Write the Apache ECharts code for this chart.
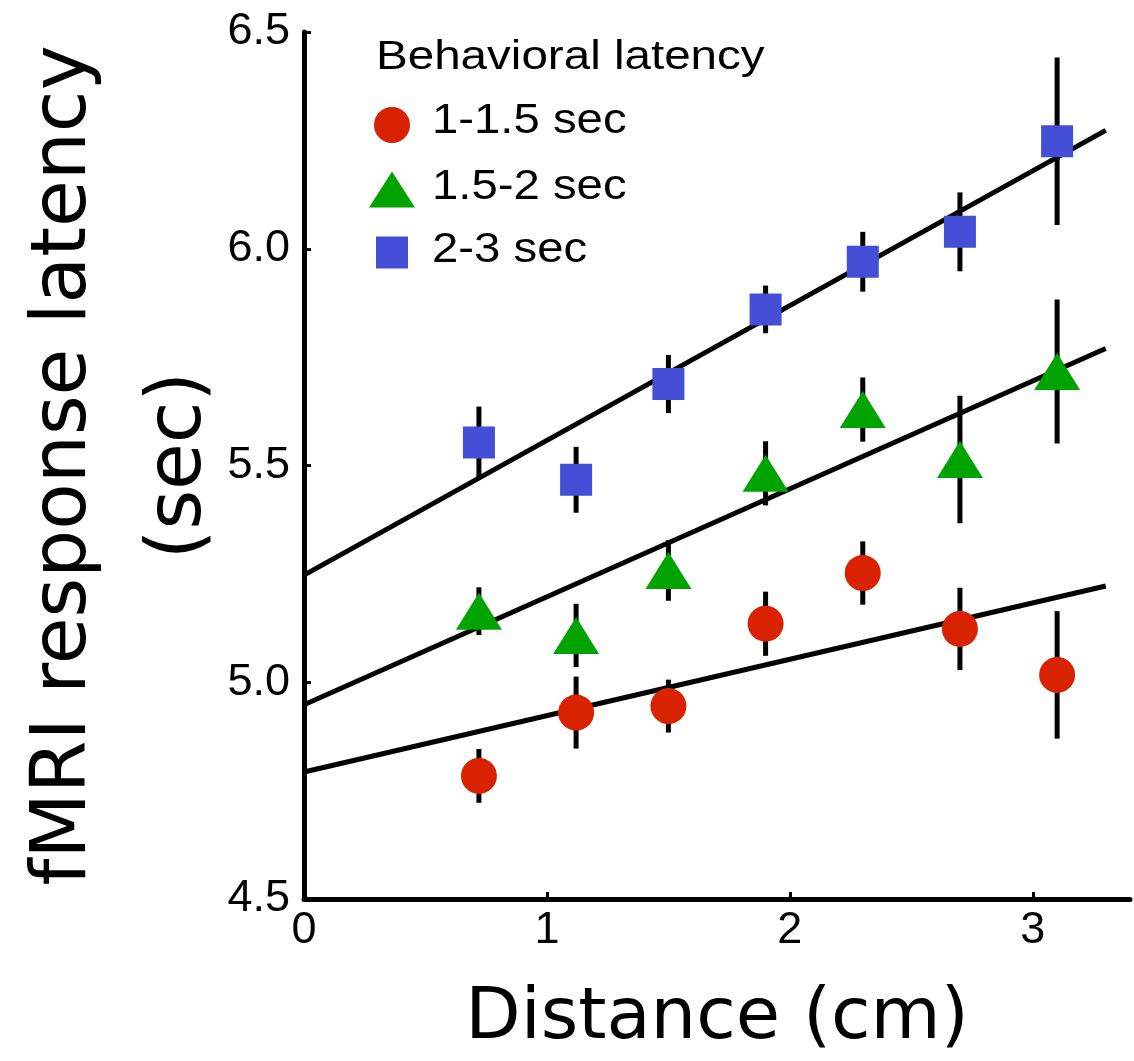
<!DOCTYPE html>
<html>
<head>
<meta charset="utf-8">
<script src="https://cdn.jsdelivr.net/npm/echarts@6/dist/echarts.min.js"></script>
<style>
  html, body { margin: 0; padding: 0; background: #fff; }
  #chart { width: 1134px; height: 1061px; }
</style>
</head>
<body>
<div id="chart"></div>
<script>
// Distance between stimulus locations (cm)
const distances = [0.72, 1.12, 1.5, 1.9, 2.3, 2.7, 3.1];

// Group names (behavioral latency bins)
const groupNames = ['1-1.5 sec', '1.5-2 sec', '2-3 sec'];

// Mean fMRI response latency (sec) and error (half bar length, sec)
const fastMeans = [4.784, 4.93, 4.945, 5.135, 5.252, 5.123, 5.017];
const fastErr   = [0.062, 0.083, 0.061, 0.074, 0.073, 0.095, 0.147];

const midMeans  = [5.164, 5.108, 5.258, 5.482, 5.629, 5.514, 5.717];
const midErr    = [0.055, 0.073, 0.070, 0.074, 0.074, 0.147, 0.166];

const slowMeans = [5.553, 5.467, 5.688, 5.860, 5.970, 6.039, 6.248];
const slowErr   = [0.083, 0.076, 0.067, 0.055, 0.069, 0.091, 0.193];

// Linear fits: x range and fitted values at its two ends
const fitRange = [0, 3.3];
const fastFit  = [4.793, 5.222];
const midFit   = [4.948, 5.770];
const slowFit  = [5.247, 6.273];

// Axis ticks
const xTicks = [0, 1, 2, 3];
const yTicks = [4.5, 5.0, 5.5, 6.0, 6.5];

const colors = ['#d92200', '#00a300', '#444ed6'];
const symbols = ['circle', 'triangle', 'rect'];
const symbolSizes = [36, [46, 37], 32];

const groups = [
  { means: fastMeans, err: fastErr, fit: fastFit },
  { means: midMeans,  err: midErr,  fit: midFit },
  { means: slowMeans, err: slowErr, fit: slowFit }
];

const tickFont = '"Liberation Sans", Arial, Helvetica, sans-serif';
const titleFont = '"Comic Sans MS", "DejaVu Sans", sans-serif';

const series = [];
groups.forEach((g, gi) => {
  // vertical error bars
  series.push({
    type: 'custom',
    z: 2,
    silent: true,
    data: distances.map((d, i) => [d, g.means[i], g.err[i]]),
    encode: { x: 0, y: 1 },
    renderItem: (params, api) => {
      const x = api.value(0), y = api.value(1), e = api.value(2);
      const top = api.coord([x, y + e]);
      const bot = api.coord([x, y - e]);
      return {
        type: 'line',
        shape: { x1: top[0], y1: top[1], x2: bot[0], y2: bot[1] },
        style: { stroke: '#000', lineWidth: 5 }
      };
    }
  });
  // regression line
  series.push({
    type: 'line',
    z: 3,
    silent: true,
    symbol: 'none',
    data: fitRange.map((x, i) => [x, g.fit[i]]),
    lineStyle: { color: '#000', width: 5 }
  });
  // group means
  series.push({
    type: 'scatter',
    name: groupNames[gi],
    z: 4,
    symbol: symbols[gi],
    symbolSize: symbolSizes[gi],
    itemStyle: { color: colors[gi], opacity: 1 },
    data: distances.map((d, i) => [d, g.means[i]])
  });
});

// Legend drawn as a small block of shapes and text
const legendX = 392, legendTextX = 432;
const legendSymbolY = [125, 189.5, 252.5];
const legendTextY = [121, 187, 250];
const legendChildren = [
  {
    type: 'text',
    x: 376, y: 58, scaleX: 1.16,
    style: { x: 0, y: 0, text: 'Behavioral latency', fill: '#000',
             font: '41px ' + tickFont, textVerticalAlign: 'middle' }
  },
  { type: 'circle', shape: { cx: legendX, cy: legendSymbolY[0], r: 18 },
    style: { fill: colors[0] } },
  { type: 'polygon',
    shape: { points: [[legendX, legendSymbolY[1] - 18], [legendX + 23, legendSymbolY[1] + 18], [legendX - 23, legendSymbolY[1] + 18]] },
    style: { fill: colors[1] } },
  { type: 'rect', shape: { x: legendX - 16, y: legendSymbolY[2] - 16, width: 32, height: 32 },
    style: { fill: colors[2] } }
];
groupNames.forEach((n, i) => {
  legendChildren.push({
    type: 'text',
    x: legendTextX, y: legendTextY[i], scaleX: 1.1,
    style: { x: 0, y: 0, text: n, fill: '#000',
             font: '43px ' + tickFont, textVerticalAlign: 'middle' }
  });
});

const chart = echarts.init(document.getElementById('chart'), null, { renderer: 'canvas' });
chart.setOption({
  animation: false,
  backgroundColor: '#fff',
  grid: { left: 304, right: 4, top: 32, bottom: 162, containLabel: false, outerBoundsMode: 'none' },
  xAxis: {
    type: 'value',
    min: 0,
    max: 3.4,
    interval: 1,
    name: 'Distance (cm)',
    nameLocation: 'middle',
    nameGap: 84,
    nameTextStyle: { fontFamily: titleFont, fontSize: 72, color: '#000' },
    axisLine: { lineStyle: { color: '#000', width: 5 } },
    axisTick: { inside: true, length: 7, lineStyle: { color: '#000', width: 3 }, customValues: xTicks.slice(1) },
    axisLabel: { fontFamily: tickFont, fontSize: 45, color: '#000', margin: 9, customValues: xTicks },
    splitLine: { show: false }
  },
  yAxis: {
    type: 'value',
    min: 4.5,
    max: 6.5,
    interval: 0.5,
    name: 'fMRI response latency\n(sec)',
    nameLocation: 'middle',
    nameRotate: 90,
    nameGap: 66,
    nameMoveOverlap: false,
    nameTextStyle: { fontFamily: titleFont, fontSize: 76, lineHeight: 115, color: '#000', align: 'center' },
    axisLine: { onZero: false, lineStyle: { color: '#000', width: 5 } },
    axisTick: { inside: true, length: 7, lineStyle: { color: '#000', width: 3 } },
    axisLabel: {
      fontFamily: tickFont, fontSize: 45, color: '#000', margin: 14,
      padding: [0, 0, 12, 0],
      formatter: v => v.toFixed(1)
    },
    splitLine: { show: false }
  },
  graphic: [{ type: 'group', children: legendChildren }],
  series: series
});
</script>
</body>
</html>
